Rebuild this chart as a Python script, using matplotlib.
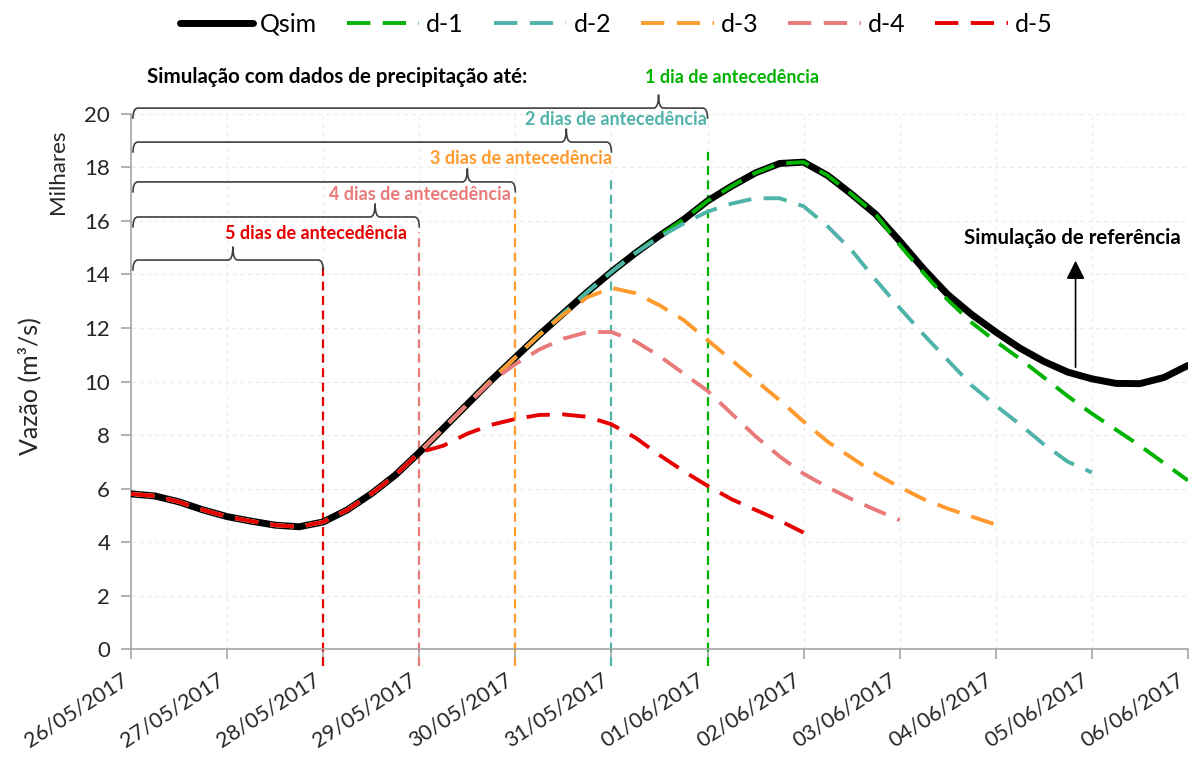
import numpy as np
import matplotlib
matplotlib.use("Agg")
import matplotlib.pyplot as plt
from matplotlib.path import Path
from matplotlib.patches import PathPatch

plt.rcParams['font.family'] = ['Lato', 'DejaVu Sans']

# dates on the x axis (one tick per day)
date_labels = ["26/05/2017", "27/05/2017", "28/05/2017", "29/05/2017", "30/05/2017",
               "31/05/2017", "01/06/2017", "02/06/2017", "03/06/2017", "04/06/2017",
               "05/06/2017", "06/06/2017"]

# reference simulation, every 6 h from 26/05 00h (thousands of m3/s)
qsim = [5.80, 5.72, 5.50, 5.20, 4.95, 4.78, 4.63, 4.57, 4.75, 5.20, 5.80, 6.50,
        7.35, 8.25, 9.15, 10.05, 10.90, 11.75, 12.55, 13.35, 14.10, 14.80, 15.45, 16.05,
        16.75, 17.30, 17.80, 18.15, 18.20, 17.70, 17.00, 16.25, 15.25, 14.20, 13.25, 12.50,
        11.85, 11.25, 10.75, 10.35, 10.10, 9.93, 9.92, 10.15, 10.60]

# forecasts: identical to qsim until the issue date, then their own values
d1 = qsim[:32] + [15.10, 14.05, 13.05, 12.20, 11.50, 10.85, 10.15, 9.45, 8.80, 8.20,
                  7.60, 6.95, 6.30]
d2 = qsim[:22] + [15.40, 15.90, 16.35, 16.65, 16.85, 16.85, 16.55, 15.80, 14.90, 13.80,
                  12.75, 11.75, 10.80, 9.85, 9.10, 8.40, 7.65, 7.00, 6.60]
d3 = qsim[:18] + [12.50, 13.15, 13.50, 13.30, 12.85, 12.30, 11.55, 10.80, 10.05, 9.30,
                  8.50, 7.75, 7.15, 6.55, 6.05, 5.60, 5.25, 4.95, 4.65]
d4 = qsim[:15] + [10.00, 10.65, 11.20, 11.60, 11.85, 11.85, 11.50, 10.95, 10.30, 9.65,
                  8.80, 7.95, 7.20, 6.55, 6.05, 5.60, 5.20, 4.82]
d5 = qsim[:12] + [7.35, 7.60, 8.05, 8.38, 8.60, 8.75, 8.77, 8.68, 8.40, 7.90, 7.25, 6.65,
                  6.10, 5.60, 5.20, 4.80, 4.35]

series = [("d-1", d1, "#00b300"), ("d-2", d2, "#4fb3aa"), ("d-3", d3, "#ff9a2e"),
          ("d-4", d4, "#e87a7a"), ("d-5", d5, "#e60000")]

# issue day of each forecast (index of date_labels) and its label
issue_day = [6, 5, 4, 3, 2]
lead_text = ["1 dia de antecedência", "2 dias de antecedência", "3 dias de antecedência",
             "4 dias de antecedência", "5 dias de antecedência"]

fig = plt.figure(figsize=(11.9, 7.65), dpi=100)
ax = fig.add_axes([0.1101, 0.1516, 0.8882, 0.6994])

t_q = np.arange(len(qsim)) * 0.25
ax.plot(t_q, qsim, color="black", lw=5, label="Qsim", solid_capstyle="round", zorder=3)
for name, vals, col in series:
    t = np.arange(len(vals)) * 0.25
    ax.plot(t, vals, color=col, lw=2.8, dashes=(6, 3.2), label=name, zorder=4)

# vertical dashed lines at issue dates
vtop = [18.58, 17.57, 16.9, 15.6, 14.47]
for (name, vals, col), day, top in zip(series, issue_day, vtop):
    ax.plot([day, day], [-0.65, top], color=col, lw=1.6, dashes=(4, 2.5),
            clip_on=False, zorder=2)


def brace(x0, x1, xt, y, h_end=0.4, h_tip=0.5, rx=0.05):
    verts = [(x0, y - h_end), (x0, y), (x0 + rx, y),
             (xt - rx, y), (xt, y), (xt, y + h_tip),
             (xt, y), (xt + rx, y),
             (x1 - rx, y), (x1, y), (x1, y - h_end)]
    codes = [Path.MOVETO, Path.CURVE3, Path.CURVE3,
             Path.LINETO, Path.CURVE3, Path.CURVE3,
             Path.CURVE3, Path.CURVE3,
             Path.LINETO, Path.CURVE3, Path.CURVE3]
    p = PathPatch(Path(verts, codes), fill=False, edgecolor="#404040", lw=1.2,
                  clip_on=False, zorder=5)
    ax.add_patch(p)


brace_y = [20.22, 18.95, 17.46, 16.15, 14.54]
brace_tip = [5.49, 4.53, 3.5, 2.54, 1.06]
text_pos = [(6.25, 21.35), (5.05, 19.78), (4.06, 18.32), (3.01, 17.0), (1.93, 15.55)]
for (name, vals, col), day, by, bt, tp, txt in zip(series, issue_day, brace_y, brace_tip,
                                                   text_pos, lead_text):
    brace(0.02, day, bt, by)
    ax.text(tp[0], tp[1], txt, color=col, fontsize=13, fontweight="bold",
            ha="center", va="center")

ax.text(2.15, 21.4, "Simulação com dados de precipitação até:", fontsize=14.8,
        fontweight="bold", ha="center", va="center")

ax.annotate("", xy=(9.83, 14.62), xytext=(9.83, 10.43),
            arrowprops=dict(arrowstyle="-|>", color="black", lw=1.2, mutation_scale=28))
ax.text(9.80, 15.36, "Simulação de referência", fontsize=14.7, fontweight="bold",
        ha="center", va="center")

ax.set_xlim(0, 11)
ax.set_ylim(0, 20)
ax.set_xticks(range(len(date_labels)))
ax.set_xticklabels(date_labels, rotation=33, ha="right", va="top",
                   fontsize=15.5, color="#262626")
ax.set_yticks(range(0, 21, 2))
ax.tick_params(axis="y", labelsize=16, colors="#262626", length=7, width=1.2,
               color="#a6a6a6", pad=8)
ax.tick_params(axis="x", length=7, width=1.2, color="#a6a6a6", pad=8)
for s in ["top", "right"]:
    ax.spines[s].set_visible(False)
for s in ["left", "bottom"]:
    ax.spines[s].set_color("#a6a6a6")
    ax.spines[s].set_linewidth(1.2)
ax.grid(True, color="#ebebeb", lw=0.8, dashes=(4, 3))
ax.set_axisbelow(True)

fig.text(0.025, 0.495, "Vazão (m³/s)", rotation=90, fontsize=18, ha="center",
         va="center", color="#262626")
fig.text(0.049, 0.776, "Milhares", rotation=90, fontsize=16, ha="center",
         va="center", color="#262626")

fig.legend(loc="center", bbox_to_anchor=(0.518, 0.968), ncol=6, frameon=False,
           fontsize=18, handlelength=2.9, handletextpad=0.28, columnspacing=1.2)

fig.savefig("out.png", dpi=100)
